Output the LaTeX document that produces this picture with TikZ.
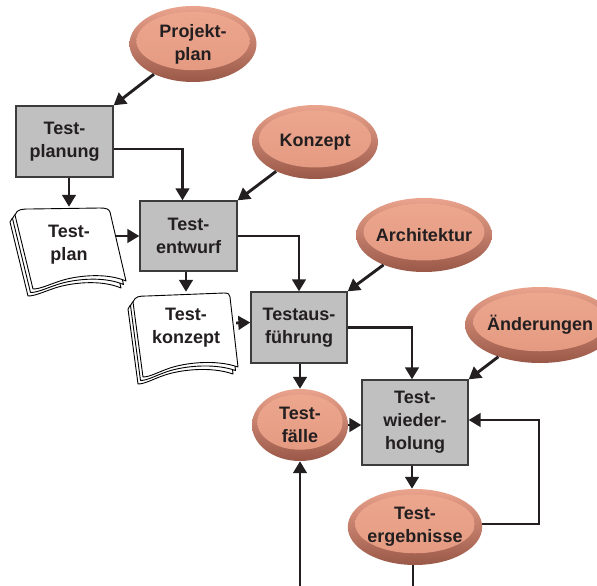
\documentclass[tikz,border=0pt]{standalone}
\usepackage{fontspec}
\setmainfont{Liberation Sans}
\usetikzlibrary{shapes.geometric,arrows.meta,calc}

\definecolor{ink}{HTML}{231F20}
\definecolor{boxfill}{HTML}{C0C0C0}
\definecolor{boxline}{HTML}{3C3C3C}
\definecolor{rimTop}{HTML}{EAA38C}
\definecolor{rimMid}{HTML}{D68D77}
\definecolor{rimBot}{HTML}{9A5848}
\definecolor{coreTop}{HTML}{EDA890}
\definecolor{coreBot}{HTML}{E3987F}

\newcommand\nodefont{\bfseries\fontsize{18}{23}\selectfont}

\begin{document}
\begin{tikzpicture}[x=1pt,y=-1pt,
  every node/.style={text=ink, align=center, font=\nodefont},
  procbox/.style={rectangle, fill=boxfill, draw=boxline, line width=1.3pt, inner sep=0pt},
  bubble/.style={ellipse, inner sep=0pt,
    top color=rimTop, middle color=rimMid, bottom color=rimBot,
    path picture={
      \path[top color=coreTop, bottom color=coreBot]
        let \p1=($(path picture bounding box.north east)-(path picture bounding box.south west)$) in
        ($(path picture bounding box.center)+(0,-3)$) ellipse [x radius=0.445*\x1, y radius=0.385*\y1];
    }},
  docnode/.style={rectangle, inner sep=0pt},
  page/.style={fill=white, draw=black, line width=0.9pt, line join=round},
  arr/.style={draw=ink, line width=2.9pt, -{Triangle[length=12pt,width=13.5pt]}},
  plain/.style={draw=ink, line width=2.9pt},
]
\useasboundingbox (0,0) rectangle (597,586);

% stacked pages of the two documents
\foreach \dx/\dy in {-5/7,-2.5/3.5,0/0}{
  \draw[page, shift={(\dx,\dy)}]
    (15,215) .. controls (17,209) and (22,209) .. (30,209) -- (100,208)
    .. controls (106,208) and (109,209) .. (110,212) -- (126,281)
    .. controls (105,272) and (75,276) .. (60,281)
    .. controls (48,285) and (40,289) .. (33,289) -- cycle;
  \draw[page, shift={(\dx,\dy)}]
    (133,302) .. controls (135,296) and (140,296) .. (147,296) -- (224,293)
    .. controls (228,293) and (230,294) .. (230,297) -- (238,367)
    .. controls (215,359) and (185,363) .. (170,368)
    .. controls (158,372) and (150,377) .. (143,377) -- cycle;
}

% inputs and results
\node[bubble, minimum width=127pt, minimum height=76pt] (projekt) at (193,44) {Projekt-\\plan};
\node[bubble, minimum width=126pt, minimum height=74pt] (konzept) at (315,142) {Konzept};
\node[bubble, minimum width=128pt, minimum height=74pt] (archi) at (424,235) {Architektur};
\node[bubble, minimum width=122pt, minimum height=76pt] (aend) at (540,325) {Änderungen};
\node[bubble, minimum width=96pt, minimum height=72pt] (tfaelle) at (300,425) {Test-\\fälle};
\node[bubble, minimum width=126pt, minimum height=76pt] (tergeb) at (415,527) {Test-\\ergebnisse};

% process steps
\node[procbox, minimum width=97pt, minimum height=71pt] (tplanung) at (64.5,141.5) {Test-\\planung};
\node[procbox, minimum width=97pt, minimum height=70pt] (tentw) at (188.5,236) {Test-\\entwurf};
\node[procbox, minimum width=96pt, minimum height=71pt] (tausf) at (299,327.5) {Testaus-\\führung};
\node[procbox, minimum width=106pt, minimum height=85pt] (twied) at (415,422.5) {Test-\\wieder-\\holung};

% document labels
\node[docnode, minimum width=94pt, minimum height=76pt] (docplan) at (69,245) {Test-\\plan};
\node[docnode, minimum width=100pt, minimum height=72pt] (dockonz) at (186,328) {Test-\\konzept};

% free ends at the lower edge and the feedback corner
\coordinate (bot1) at (300,592);
\coordinate (bot2) at (413,592);
\coordinate (loop) at (539,420);

% connectors
\draw[arr] (projekt) -- (tplanung.north east);
\draw[arr] (docplan.north |- tplanung.south) -- (docplan.north);
\draw[arr] ([yshift=-7.5pt]tplanung.east) -| ([xshift=-6pt]tentw.north);
\draw[arr] (konzept) -- (tentw.north east);
\draw[arr] (docplan.east |- tentw.west) -- (tentw.west);
\draw[arr] (dockonz.north |- tentw.south) -- (dockonz.north);
\draw[arr] (tentw.east) -| (tausf.north);
\draw[arr] (archi) -- (tausf.north east);
\draw[arr] ([yshift=5pt]dockonz.east) -- ([yshift=5pt]tausf.west);
\draw[arr] (tfaelle.north |- tausf.south) -- (tfaelle.north);
\draw[arr] (tausf.east) -| ([xshift=-3pt]twied.north);
\draw[arr] (aend) -- (twied.north east);
\draw[arr] (tfaelle.east) -- (tfaelle.east -| twied.west);
\draw[arr] ([xshift=-3pt]twied.south) -- ([xshift=-3pt]tergeb.north);
\draw[arr] ([yshift=3pt]tergeb.east) -| (loop) -- (loop -| twied.east);
\draw[arr] (bot1) -- (tfaelle.south);
\draw[plain] (tergeb.south -| bot2) -- (bot2);
\end{tikzpicture}
\end{document}
